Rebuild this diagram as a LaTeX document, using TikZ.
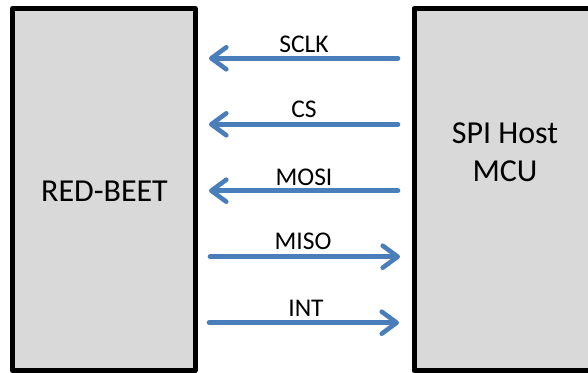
\documentclass[tikz,border=0pt]{standalone}
\usepackage{fontspec}
\setmainfont{Carlito}
\usetikzlibrary{arrows.meta}
\definecolor{boxgray}{HTML}{D9D9D9}
\definecolor{sigblue}{RGB}{74,126,187}
\begin{document}
\begin{tikzpicture}[x=1pt,y=-1pt,
  box/.style={draw=black,fill=boxgray,line width=5pt,line join=round,rectangle,inner sep=0pt,outer sep=0pt},
  bigtext/.style={font=\fontsize{32}{38.4}\selectfont,inner sep=0pt,anchor=base,align=center},
  sig/.style={draw=sigblue,line width=4.6pt,line cap=round,-{Straight Barb[length=15pt,width=22pt,round]}},
  siglabel/.style={font=\fontsize{25.5}{30}\selectfont,inner sep=0pt,anchor=base}]
\clip (0,0) rectangle (588,372);
\node[box,minimum width=182.5pt,minimum height=362pt] (rb) at (103.75,189.5) {};
\node[box,minimum width=206pt,minimum height=362pt] (mcu) at (517,189.5) {};
\node[bigtext] (rbt) at (104.5,201.7) {RED-BEET};
\node[bigtext] (mcut) at (505,181.7) {SPI Host\\MCU};
\coordinate (l1) at (209,58.3);  \coordinate (r1) at (398,58.3);
\coordinate (l2) at (209,124.3); \coordinate (r2) at (398,124.3);
\coordinate (l3) at (209,190.7); \coordinate (r3) at (398,190.7);
\coordinate (l4) at (210,256.7); \coordinate (r4) at (400,256.7);
\coordinate (l5) at (209,322.7); \coordinate (r5) at (399,322.7);
\draw[sig] (r1) -- (l1);
\draw[sig] (r2) -- (l2);
\draw[sig] (r3) -- (l3);
\draw[sig] (l4) -- (r4);
\draw[sig] (l5) -- (r5);
\node[siglabel] (t1) at (304,52.7) {SCLK};
\node[siglabel] (t2) at (304,117) {CS};
\node[siglabel] (t3) at (304,185) {MOSI};
\node[siglabel] (t4) at (303,249) {MISO};
\node[siglabel] (t5) at (306,316) {INT};
\end{tikzpicture}
\end{document}
